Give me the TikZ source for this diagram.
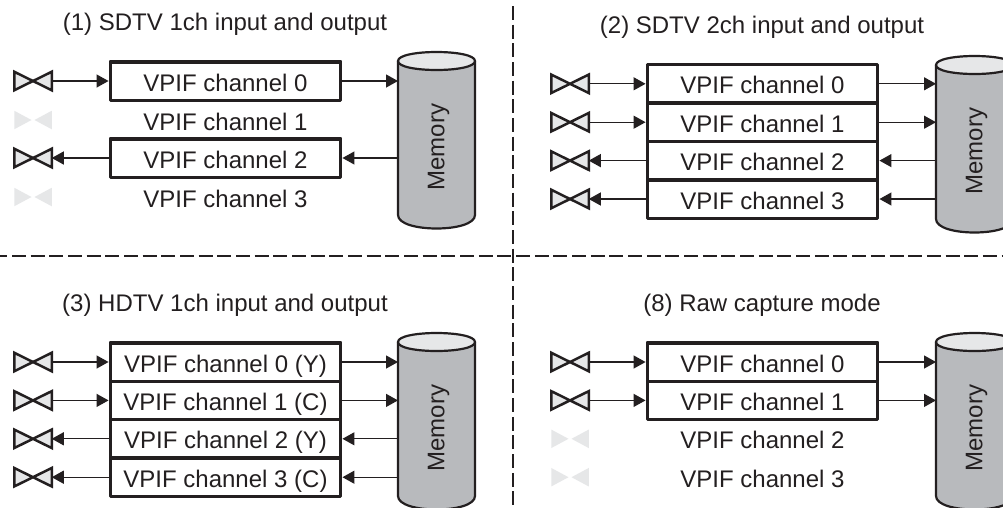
\documentclass[tikz,border=0pt]{standalone}
\usepackage{fontspec}
\usepackage{graphicx}
\setmainfont{Liberation Sans}
\usetikzlibrary{arrows.meta}
\definecolor{ink}{HTML}{231F20}
\definecolor{lightg}{HTML}{E6E7E8}
\definecolor{midg}{HTML}{B8BABD}
\tikzset{
  txt/.style={font=\fontsize{24}{28}\selectfont,text=ink,inner sep=0pt,text height=20pt,text depth=0pt},
  memtxt/.style={font=\fontsize{24}{28}\selectfont,text=ink,inner sep=0pt},
  chanbox/.style={txt,draw=ink,line width=3.4pt,fill=white,minimum width=230.5pt,minimum height=38.4pt,outer sep=1.7pt,line join=round},
  plainchan/.style={txt,minimum width=230.5pt,minimum height=38.4pt,outer sep=1.7pt},
  valvenode/.style={minimum width=37.5pt,minimum height=18.5pt,inner sep=0pt,outer sep=0pt},
  valveon/.style={draw=ink,line width=2.5pt,fill=lightg,line join=miter,miter limit=3},
  valveoff/.style={fill=lightg},
  conn/.style={draw=ink,line width=1.25pt,-{Triangle[length=12pt,width=13pt,fill=ink]}},
  memnode/.style={minimum width=77pt,minimum height=154pt,inner sep=0pt,outer sep=0pt},
  memline/.style={draw=ink,line width=2.2pt,line join=round},
  divider/.style={draw=ink,line width=2.4pt,dash pattern=on 14pt off 4.67pt},
}
% active valve
\newcommand{\valveOn}[3]{%
  \node[valvenode] (#1) at (#2,#3) {};
  \path[valveon] (#1.north west) -- (#1.south east) -- (#1.north east) -- (#1.south west) -- cycle;
}
% greyed-out valve
\newcommand{\valveOff}[3]{%
  \node[valvenode] (#1) at (#2,#3) {};
  \path[valveoff] (#1.north west) -- (#1.south west) -- ([xshift=-1.5pt]#1.center) -- cycle;
  \path[valveoff] (#1.north east) -- (#1.south east) -- ([xshift=1.5pt]#1.center) -- cycle;
}
% memory cylinder: name, centre x, top of body y
\newcommand{\memcyl}[3]{%
  \node[memnode,anchor=north] (#1) at (#2,#3) {};
  \path[memline,fill=midg] (#1.north west) -- (#1.south west)
     .. controls ([yshift=-18pt]#1.south west) and ([yshift=-18pt]#1.south east) .. (#1.south east)
     -- (#1.north east) -- cycle;
  \path[memline,fill=lightg] (#1.north west)
     .. controls ([yshift=12pt]#1.north west) and ([yshift=12pt]#1.north east) .. (#1.north east)
     .. controls ([yshift=-12pt]#1.north east) and ([yshift=-12pt]#1.north west) .. (#1.north west) -- cycle;
  \node[memtxt] (#1t) at ([xshift=2pt,yshift=-9pt]#1.center) {\rotatebox{90}{Memory}};
}
\begin{document}
\begin{tikzpicture}[x=1pt,y=-1pt]
\clip (0,0) rectangle (1003,507);
\fill[white] (0,0) rectangle (1003,507);

% dividers
\coordinate (dvt) at (513,6);
\coordinate (dvb) at (513,507);
\coordinate (dhl) at (0,256);
\coordinate (dhr) at (1003,256);
\path[divider] (dvt) -- (dvb);
\path[divider,dash phase=6.67pt] (dhl) -- (dhr);

% ---------- panel 1
\node[txt] (t1) at (225,20.5) {(1) SDTV 1ch input and output};
\memcyl{m1}{436.5}{61}
\valveOn{v10}{33}{81}
\valveOff{v11}{33}{120}
\valveOn{v12}{33}{158}
\valveOff{v13}{33}{197}
\node[chanbox] (b10) at (225.5,81) {VPIF channel 0};
\node[plainchan] (b11) at (225.5,120) {VPIF channel 1};
\node[chanbox] (b12) at (225.5,158) {VPIF channel 2};
\node[plainchan] (b13) at (225.5,197) {VPIF channel 3};
\path[conn] (v10.east) -- (b10.west);
\path[conn] (b10.east) -- (b10.east -| m1.west);
\path[conn] (b12.west) -- (v12.east);
\path[conn] (b12.east -| m1.west) -- (b12.east);

% ---------- panel 2
\node[txt] (t2) at (762,23) {(2) SDTV 2ch input and output};
\memcyl{m2}{974.5}{65}
\valveOn{v20}{570}{83.8}
\valveOn{v21}{570}{122.2}
\valveOn{v22}{570}{160.6}
\valveOn{v23}{570}{199}
\node[chanbox] (b20) at (762.5,83.8) {VPIF channel 0};
\node[chanbox] (b21) at (762.5,122.2) {VPIF channel 1};
\node[chanbox] (b22) at (762.5,160.6) {VPIF channel 2};
\node[chanbox] (b23) at (762.5,199) {VPIF channel 3};
\path[conn] (v20.east) -- (b20.west);
\path[conn] (v21.east) -- (b21.west);
\path[conn] (b22.west) -- (v22.east);
\path[conn] (b23.west) -- (v23.east);
\path[conn] (b20.east) -- (b20.east -| m2.west);
\path[conn] (b21.east) -- (b21.east -| m2.west);
\path[conn] (b22.east -| m2.west) -- (b22.east);
\path[conn] (b23.east -| m2.west) -- (b23.east);

% ---------- panel 3
\node[txt] (t3) at (225,301) {(3) HDTV 1ch input and output};
\memcyl{m3}{436.5}{342}
\valveOn{v30}{33}{362}
\valveOn{v31}{33}{400.4}
\valveOn{v32}{33}{438.8}
\valveOn{v33}{33}{477.2}
\node[chanbox] (b30) at (225.5,362) {VPIF channel 0 (Y)};
\node[chanbox] (b31) at (225.5,400.4) {VPIF channel 1 (C)};
\node[chanbox] (b32) at (225.5,438.8) {VPIF channel 2 (Y)};
\node[chanbox] (b33) at (225.5,477.2) {VPIF channel 3 (C)};
\path[conn] (v30.east) -- (b30.west);
\path[conn] (v31.east) -- (b31.west);
\path[conn] (b32.west) -- (v32.east);
\path[conn] (b33.west) -- (v33.east);
\path[conn] (b30.east) -- (b30.east -| m3.west);
\path[conn] (b31.east) -- (b31.east -| m3.west);
\path[conn] (b32.east -| m3.west) -- (b32.east);
\path[conn] (b33.east -| m3.west) -- (b33.east);

% ---------- panel 4
\node[txt] (t4) at (762,301) {(8) Raw capture mode};
\memcyl{m4}{974.5}{342}
\valveOn{v40}{570}{362}
\valveOn{v41}{570}{400.4}
\valveOff{v42}{570}{438.8}
\valveOff{v43}{570}{477.2}
\node[chanbox] (b40) at (762.5,362) {VPIF channel 0};
\node[chanbox] (b41) at (762.5,400.4) {VPIF channel 1};
\node[plainchan] (b42) at (762.5,438.8) {VPIF channel 2};
\node[plainchan] (b43) at (762.5,477.2) {VPIF channel 3};
\path[conn] (v40.east) -- (b40.west);
\path[conn] (v41.east) -- (b41.west);
\path[conn] (b40.east) -- (b40.east -| m4.west);
\path[conn] (b41.east) -- (b41.east -| m4.west);
\end{tikzpicture}
\end{document}
